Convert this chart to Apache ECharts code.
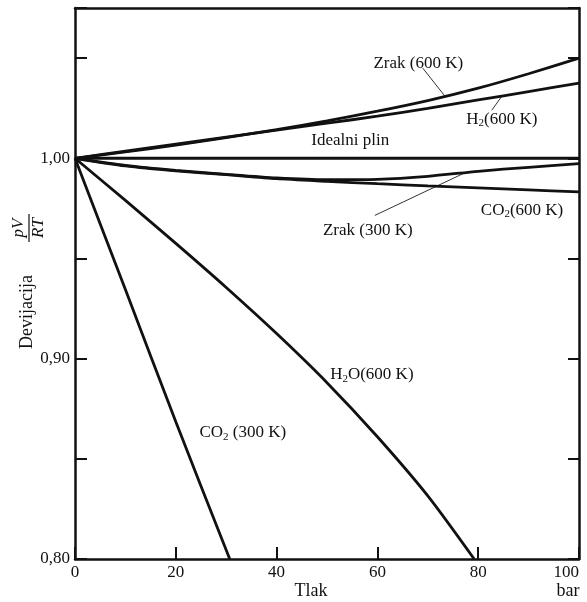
<!DOCTYPE html>
<html>
<head>
<meta charset="utf-8">
<script src="https://cdn.jsdelivr.net/npm/echarts@6/dist/echarts.min.js"></script>
<style>
  html, body { margin: 0; padding: 0; background: #fff; }
  #chart { width: 587px; height: 602px; }
</style>
</head>
<body>
<div id="chart"></div>
<script>
// tlak (bar) i odstupanje pV/RT za svaki plin
const idealP = [0, 100]
const idealZ = [1.0, 1.0]

const zrak600P = [0, 10, 20, 30, 40, 50, 60, 70, 80, 90, 100]
const zrak600Z = [1.0, 1.0032, 1.0066, 1.0103, 1.0143, 1.0187, 1.0235, 1.0288, 1.035, 1.0422, 1.05]

const h2P = [0, 10, 20, 30, 40, 50, 60, 70, 80, 90, 100]
const h2Z = [1.0, 1.0035, 1.007, 1.0105, 1.014, 1.0175, 1.021, 1.0249, 1.0291, 1.0333, 1.0375]

const zrak300P = [0, 10, 20, 30, 40, 50, 60, 70, 80, 90, 100]
const zrak300Z = [1.0, 0.9965, 0.994, 0.992, 0.9902, 0.9893, 0.9895, 0.991, 0.9935, 0.9955, 0.9973]

const co2600P = [0, 10, 20, 30, 40, 50, 60, 70, 80, 90, 100]
const co2600Z = [1.0, 0.9962, 0.9937, 0.9918, 0.9898, 0.9885, 0.9873, 0.9862, 0.9852, 0.9842, 0.9832]

const h2oP = [0, 10, 20, 30, 40, 50, 60, 70, 79.2]
const h2oZ = [1.0, 0.979, 0.9575, 0.9355, 0.9125, 0.888, 0.861, 0.8315, 0.8]

const co2300P = [0, 10, 20, 30.7]
const co2300Z = [1.0, 0.9345, 0.8685, 0.8]

// natpisi krivulja (sredina teksta u jedinicama osi)
const labelTexts = [
  '{n|Zrak (600 K)}',
  '{n|H}{s|2}{n|(600 K)}',
  '{n|Idealni plin}',
  '{n|Zrak (300 K)}',
  '{n|CO}{s|2}{n|(600 K)}',
  '{n|H}{s|2}{n|O(600 K)}',
  '{n|CO}{s|2}{n| (300 K)}'
]
const labelP = [68.1, 84.7, 54.6, 58.1, 88.7, 58.9, 33.3]
const labelZ = [1.0475, 1.0195, 1.009, 0.964, 0.974, 0.892, 0.863]

// pokazne crtice od natpisa do krivulje
const leaderFrom = [[69.0, 1.045], [82.7, 1.024], [59.5, 0.9715]]
const leaderTo = [[73.4, 1.031], [84.7, 1.031], [77.4, 0.9928]]

const serif = '"Liberation Serif", "DejaVu Serif", serif'
const ink = '#111'

function pairs(xs, ys) {
  return xs.map((x, i) => [x, ys[i]])
}

function curve(name, xs, ys) {
  return {
    name: name,
    type: 'line',
    data: pairs(xs, ys),
    smooth: 0.25,
    showSymbol: false,
    symbol: 'none',
    clip: true,
    lineStyle: { color: ink, width: 2.8 },
    z: 3
  }
}

const chart = echarts.init(document.getElementById('chart'))

const option = {
  animation: false,
  backgroundColor: '#fff',
  grid: {
    left: 75,
    right: 8,
    top: 8,
    bottom: 43,
    show: false
  },
  xAxis: [
    {
      type: 'value',
      min: 0,
      max: 100,
      interval: 20,
      position: 'bottom',
      axisLine: { show: true, onZero: false, lineStyle: { color: ink, width: 2.5 } },
      axisTick: { show: true, inside: true, length: 12, lineStyle: { color: ink, width: 2 } },
      axisLabel: {
        margin: 5,
        color: ink,
        fontFamily: serif,
        fontSize: 17,
        alignMaxLabel: 'right'
      },
      splitLine: { show: false }
    },
    {
      type: 'value',
      min: 0,
      max: 100,
      position: 'top',
      axisLine: { show: true, onZero: false, lineStyle: { color: ink, width: 2.5 } },
      axisTick: { show: false },
      axisLabel: { show: false },
      splitLine: { show: false }
    }
  ],
  yAxis: [
    {
      type: 'value',
      min: 0.8,
      max: 1.075,
      interval: 0.05,
      position: 'left',
      axisLine: { show: true, onZero: false, lineStyle: { color: ink, width: 2.5 } },
      axisTick: { show: true, inside: true, length: 12, lineStyle: { color: ink, width: 2 } },
      axisLabel: {
        margin: 5,
        color: ink,
        fontFamily: serif,
        fontSize: 17,
        formatter: function (v) {
          const t = Math.round(v * 100)
          if (t === 80 || t === 90 || t === 100) {
            return (t / 100).toFixed(2).replace('.', ',')
          }
          return ''
        }
      },
      splitLine: { show: false }
    },
    {
      type: 'value',
      min: 0.8,
      max: 1.075,
      interval: 0.05,
      position: 'right',
      axisLine: { show: true, onZero: false, lineStyle: { color: ink, width: 2.5 } },
      axisTick: { show: true, inside: true, length: 11, lineStyle: { color: ink, width: 2 } },
      axisLabel: { show: false },
      splitLine: { show: false }
    }
  ],
  series: [
    curve('Idealni plin', idealP, idealZ),
    curve('Zrak (600 K)', zrak600P, zrak600Z),
    curve('H2 (600 K)', h2P, h2Z),
    curve('Zrak (300 K)', zrak300P, zrak300Z),
    curve('CO2 (600 K)', co2600P, co2600Z),
    curve('H2O (600 K)', h2oP, h2oZ),
    curve('CO2 (300 K)', co2300P, co2300Z),
    {
      name: 'crtice',
      type: 'lines',
      coordinateSystem: 'cartesian2d',
      data: leaderFrom.map((a, i) => ({ coords: [a, leaderTo[i]] })),
      lineStyle: { color: '#333', width: 1, opacity: 1 },
      symbol: 'none',
      z: 2
    },
    {
      name: 'natpisi',
      type: 'scatter',
      symbolSize: 1,
      itemStyle: { color: 'rgba(0,0,0,0)', opacity: 1 },
      data: labelP.map((x, i) => ({ value: [x, labelZ[i]], text: labelTexts[i] })),
      label: {
        show: true,
        position: 'inside',
        opacity: 1,
        formatter: function (p) { return p.data.text },
        rich: {
          n: { fontFamily: serif, fontSize: 17, color: ink, lineHeight: 20 },
          s: { fontFamily: serif, fontSize: 11, color: ink, lineHeight: 20, padding: [8, 0, 0, 0] }
        }
      },
      z: 5
    }
  ],
  graphic: [
    {
      type: 'group',
      x: 27,
      y: 280,
      rotation: Math.PI / 2,
      children: [
        {
          type: 'text',
          x: -32,
          y: 0,
          style: {
            text: 'Devijacija',
            font: '18px ' + serif,
            fill: ink,
            align: 'center',
            verticalAlign: 'middle'
          }
        },
        {
          type: 'text',
          x: 52,
          y: -8,
          style: {
            text: 'pV',
            font: 'italic 17px ' + serif,
            fill: ink,
            align: 'center',
            verticalAlign: 'middle'
          }
        },
        {
          type: 'line',
          shape: { x1: 38, y1: 2, x2: 66, y2: 2 },
          style: { stroke: ink, lineWidth: 1.2 }
        },
        {
          type: 'text',
          x: 52,
          y: 12,
          style: {
            text: 'RT',
            font: 'italic 17px ' + serif,
            fill: ink,
            align: 'center',
            verticalAlign: 'middle'
          }
        }
      ]
    },
    {
      type: 'text',
      x: 311,
      y: 591,
      style: { text: 'Tlak', font: '18px ' + serif, fill: ink, align: 'center', verticalAlign: 'middle' }
    },
    {
      type: 'text',
      x: 568,
      y: 591,
      style: { text: 'bar', font: '18px ' + serif, fill: ink, align: 'center', verticalAlign: 'middle' }
    }
  ]
}

chart.setOption(option)
window.addEventListener('resize', () => chart.resize())
</script>
</body>
</html>
